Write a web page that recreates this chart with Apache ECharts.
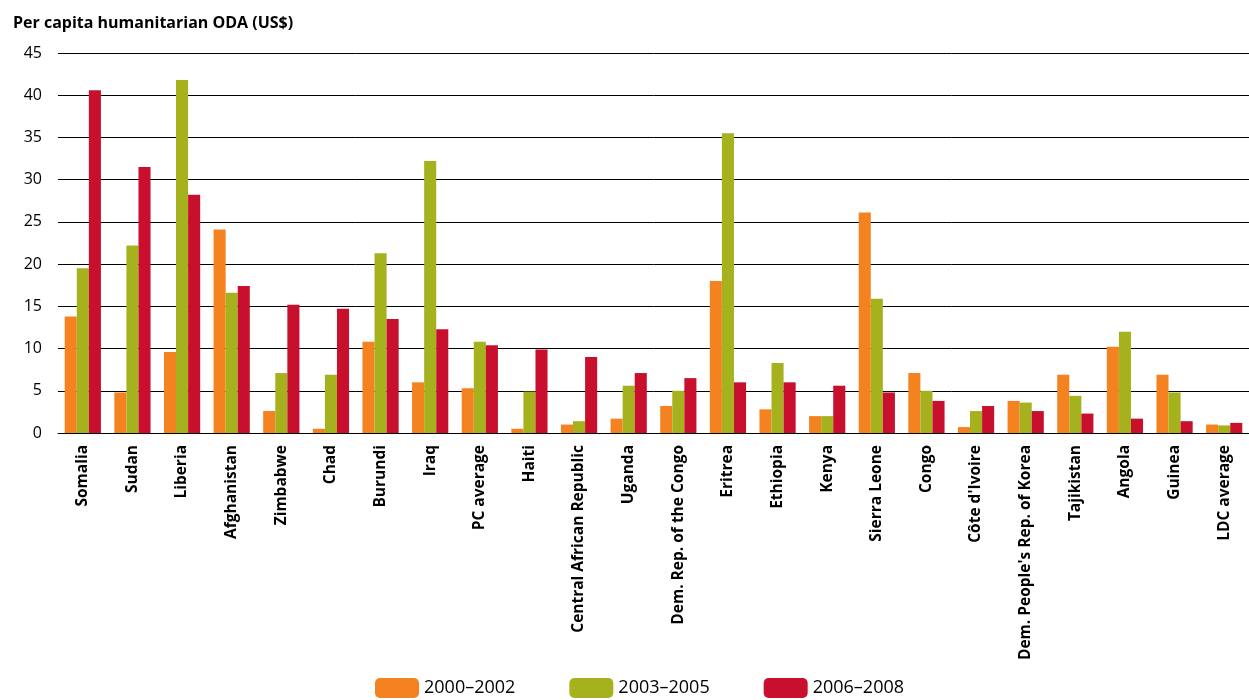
<!DOCTYPE html>
<html><head><meta charset="utf-8">
<script src="https://cdn.jsdelivr.net/npm/echarts@6/dist/echarts.min.js"></script>
<style>html,body{margin:0;padding:0;background:#fff}#c{width:1249px;height:700px}</style>
</head><body><div id="c"></div>
<script>
const categories=["Somalia","Sudan","Liberia","Afghanistan","Zimbabwe","Chad","Burundi","Iraq","PC average","Haiti","Central African Republic","Uganda","Dem. Rep. of the Congo","Eritrea","Ethiopia","Kenya","Sierra Leone","Congo","Côte d'Ivoire","Dem. People's Rep. of Korea","Tajikistan","Angola","Guinea","LDC average"];
const s2000=[13.8,4.8,9.6,24.1,2.6,0.5,10.8,6.0,5.3,0.5,1.0,1.7,3.2,18.0,2.8,2.0,26.1,7.1,0.7,3.8,6.9,10.2,6.9,1.0];
const s2003=[19.5,22.2,41.8,16.6,7.1,6.9,21.3,32.2,10.8,4.9,1.4,5.6,5.0,35.5,8.3,2.0,15.9,5.0,2.6,3.6,4.4,12.0,4.8,0.9];
const s2006=[40.6,31.5,28.2,17.4,15.2,14.7,13.5,12.3,10.4,9.9,9.0,7.1,6.5,6.0,6.0,5.6,4.8,3.8,3.2,2.6,2.3,1.7,1.4,1.2];
const names=["2000–2002","2003–2005","2006–2008"];
const colors=["#f58220","#a5b21e","#c8102e"];
const F="'Open Sans', 'Noto Sans', sans-serif";
const chart=echarts.init(document.getElementById('c'));
chart.setOption({
 animation:false,
 textStyle:{fontFamily:F},
 title:{text:"Per capita humanitarian ODA (US$)",left:8,top:10,textStyle:{fontSize:16,fontWeight:'bold',color:'#000',fontFamily:F}},
 legend:{bottom:-3,left:370,itemWidth:44,itemHeight:20,itemGap:54,textStyle:{fontSize:18,color:'#000',fontFamily:F},data:names},
 grid:{left:58,right:0,top:53,bottom:267},
 xAxis:{type:'category',data:categories,axisTick:{show:false},axisLine:{lineStyle:{color:'#000'}},
   axisLabel:{rotate:90,interval:0,fontWeight:'bold',fontSize:15.5,color:'#000',margin:12}},
 yAxis:{type:'value',min:0,max:45,interval:5,axisLabel:{fontSize:16,color:'#000',margin:16},
   splitLine:{lineStyle:{color:'#000',width:1}},axisLine:{show:false}},
 series:[s2000,s2003,s2006].map((d,i)=>({name:names[i],type:'bar',data:d,barGap:'0%',barCategoryGap:'27%',itemStyle:{color:colors[i]}}))
});
</script></body></html>
